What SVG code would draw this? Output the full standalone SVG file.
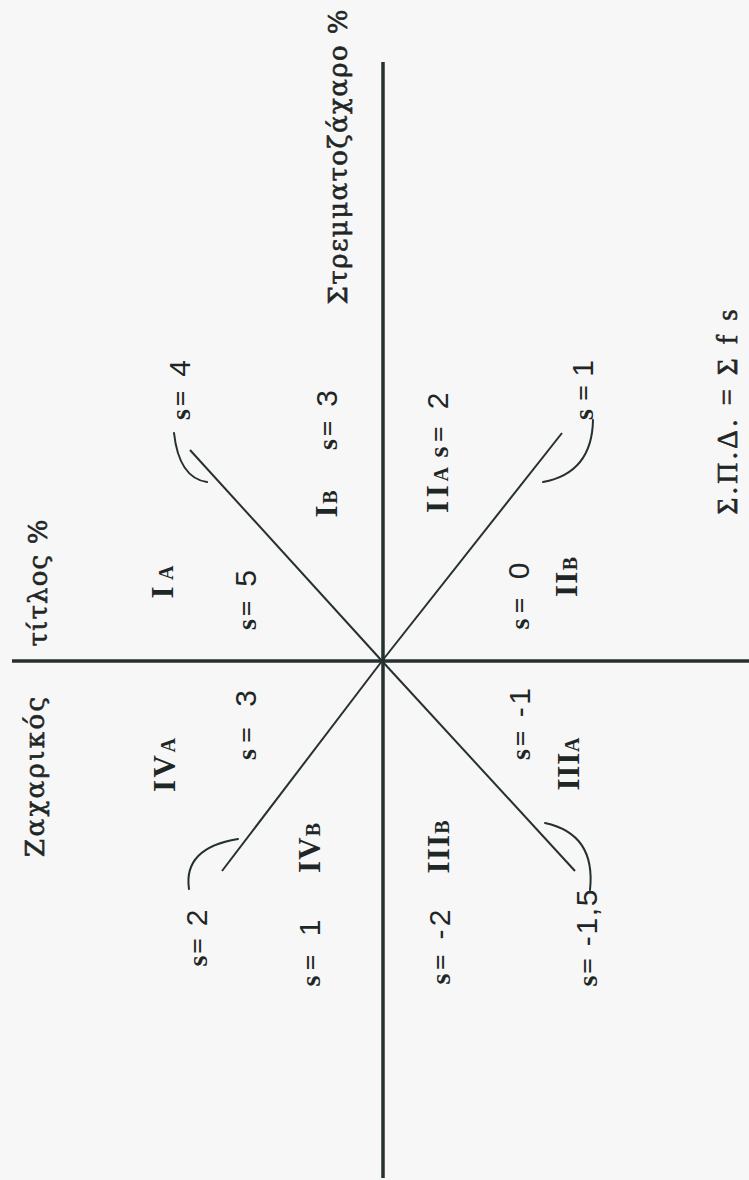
<svg xmlns="http://www.w3.org/2000/svg" width="749" height="1180" viewBox="0 0 749 1180">
<style>
.ax{stroke:#263030;stroke-width:3.5;fill:none}
.arm{stroke:#263030;stroke-width:2;fill:none}
.crv{stroke:#263030;stroke-width:2;fill:none;stroke-linecap:round}
text{fill:#1f2626}
.gt{font-family:"DejaVu Serif","Liberation Serif",serif;font-size:26px;stroke:#1f2626;stroke-width:0.6}
.rn{font-family:"Liberation Serif",serif;font-weight:bold;font-size:31px}
.sc{font-size:20px}
.sv{font-family:"Liberation Serif",serif;font-weight:bold;font-size:28px}
.num{font-family:"Liberation Sans",sans-serif;font-size:30px;font-weight:normal}
.eq{font-family:"Liberation Serif",serif;font-size:29px;stroke:#1f2626;stroke-width:0.6}
</style>
<rect x="0" y="0" width="749" height="1180" fill="#f7f7f7"/>
<g id="connectors">
<line class="ax" x1="383" y1="62" x2="383" y2="1178"/>
<line class="ax" x1="12" y1="661" x2="749" y2="661"/>
<line class="arm" x1="382" y1="661" x2="190" y2="450"/>
<line class="arm" x1="382" y1="661" x2="562" y2="433"/>
<line class="arm" x1="382" y1="661" x2="222" y2="871"/>
<line class="arm" x1="382" y1="661" x2="575" y2="871"/>
<path class="crv" d="M174,433 Q179,478 207,482"/>
<path class="crv" d="M543,482 Q592,473 593,420"/>
<path class="crv" d="M238,839 Q183,848 189,889"/>
<path class="crv" d="M545,823 Q596,834 590,890"/>
</g>
<g id="axis-sugar-beet"><text class="gt" transform="translate(347,157) rotate(-90)" text-anchor="middle" textLength="295" lengthAdjust="spacing">Στρεμματοζάχαρο %</text></g>
<g id="axis-titlos"><text class="gt" transform="translate(47,583) rotate(-90)" text-anchor="middle" textLength="127" lengthAdjust="spacing">τίτλος %</text></g>
<g id="axis-sugar"><text class="gt" transform="translate(44,777) rotate(-90)" text-anchor="middle" textLength="160" lengthAdjust="spacing">Ζαχαρικός</text></g>
<g id="formula"><text class="eq" transform="translate(737,412) rotate(-90)" text-anchor="middle" textLength="205" lengthAdjust="spacing">Σ.Π.Δ. = Σ f s</text></g>

<g id="IA"><text class="rn" transform="translate(173,582) rotate(-90)" text-anchor="middle" textLength="33" lengthAdjust="spacing">I<tspan class="sc">A</tspan></text></g>
<g id="IB"><text class="rn" transform="translate(337,504) rotate(-90)" text-anchor="middle" textLength="27" lengthAdjust="spacing">I<tspan class="sc">B</tspan></text></g>
<g id="IIA"><text class="rn" transform="translate(448,490) rotate(-90)" text-anchor="middle" textLength="46" lengthAdjust="spacing">II<tspan class="sc">A</tspan></text></g>
<g id="IIB"><text class="rn" transform="translate(577,577) rotate(-90)" text-anchor="middle" textLength="40" lengthAdjust="spacing">II<tspan class="sc">B</tspan></text></g>
<g id="IIIA"><text class="rn" transform="translate(579,764) rotate(-90)" text-anchor="middle" textLength="53" lengthAdjust="spacing">III<tspan class="sc">A</tspan></text></g>
<g id="IIIB"><text class="rn" transform="translate(449,847) rotate(-90)" text-anchor="middle" textLength="53" lengthAdjust="spacing">III<tspan class="sc">B</tspan></text></g>
<g id="IVA"><text class="rn" transform="translate(175,765) rotate(-90)" text-anchor="middle" textLength="54" lengthAdjust="spacing">IV<tspan class="sc">A</tspan></text></g>
<g id="IVB"><text class="rn" transform="translate(320,848) rotate(-90)" text-anchor="middle" textLength="50" lengthAdjust="spacing">IV<tspan class="sc">B</tspan></text></g>

<g id="s5"><text class="sv" transform="translate(256,600) rotate(-90)" text-anchor="middle" textLength="60" lengthAdjust="spacing">s=<tspan class="num"> 5</tspan></text></g>
<g id="s4"><text class="sv" transform="translate(190,390) rotate(-90)" text-anchor="middle" textLength="60" lengthAdjust="spacing">s=<tspan class="num"> 4</tspan></text></g>
<g id="s3-IB"><text class="sv" transform="translate(337,420) rotate(-90)" text-anchor="middle" textLength="60" lengthAdjust="spacing">s=<tspan class="num"> 3</tspan></text></g>
<g id="s2-IIA"><text class="sv" transform="translate(448,425) rotate(-90)" text-anchor="middle" textLength="65" lengthAdjust="spacing">s=<tspan class="num"> 2</tspan></text></g>
<g id="s1-top"><text class="sv" transform="translate(593,390) rotate(-90)" text-anchor="middle" textLength="60" lengthAdjust="spacing">s=<tspan class="num">1</tspan></text></g>
<g id="s0"><text class="sv" transform="translate(529,596) rotate(-90)" text-anchor="middle" textLength="67" lengthAdjust="spacing">s=<tspan class="num"> 0</tspan></text></g>
<g id="s3-IVA"><text class="sv" transform="translate(256,725) rotate(-90)" text-anchor="middle" textLength="70" lengthAdjust="spacing">s=<tspan class="num"> 3</tspan></text></g>
<g id="s2-low"><text class="sv" transform="translate(207,938) rotate(-90)" text-anchor="middle" textLength="57" lengthAdjust="spacing">s=<tspan class="num"> 2</tspan></text></g>
<g id="s1-low"><text class="sv" transform="translate(320,953) rotate(-90)" text-anchor="middle" textLength="67" lengthAdjust="spacing">s=<tspan class="num"> 1</tspan></text></g>
<g id="sm1"><text class="sv" transform="translate(530,724) rotate(-90)" text-anchor="middle" textLength="72" lengthAdjust="spacing">s=<tspan class="num"> -1</tspan></text></g>
<g id="sm2"><text class="sv" transform="translate(450,947) rotate(-90)" text-anchor="middle" textLength="75" lengthAdjust="spacing">s=<tspan class="num"> -2</tspan></text></g>
<g id="sm15"><text class="sv" transform="translate(597,938) rotate(-90)" text-anchor="middle" textLength="97" lengthAdjust="spacing">s=<tspan class="num"> -1,5</tspan></text></g>
</svg>
